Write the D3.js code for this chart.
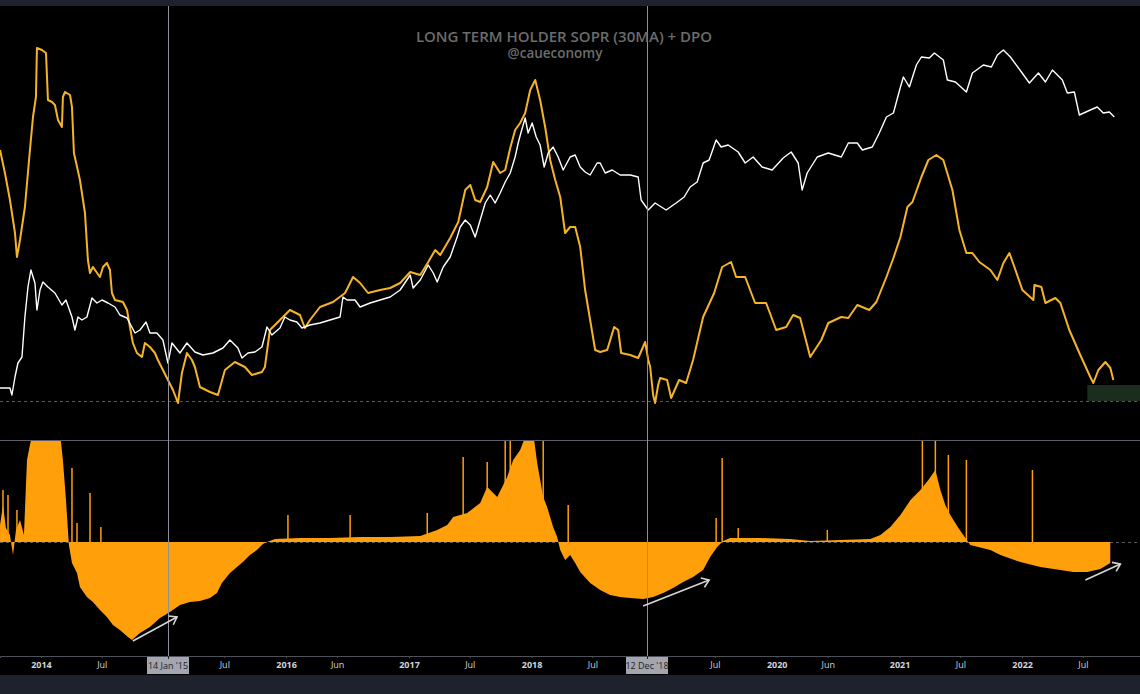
<!DOCTYPE html>
<html>
<head>
<meta charset="utf-8">
<script src="https://cdnjs.cloudflare.com/ajax/libs/d3/7.8.5/d3.min.js"></script>
<style>
	html, body { margin: 0; padding: 0; background: #1e222d; }
	#chart { width: 1140px; height: 694px; }
	text { font-family: "Open Sans", "Noto Sans", sans-serif; }
</style>
</head>
<body>
<div id="chart"></div>
<script>

// [decimal year, index value] - LTH SOPR 30MA (orange)
const sopr = [
	[2013.666, 50.2], [2013.706, 45.6], [2013.747, 40.2], [2013.788, 33.6], [2013.804, 28.8], [2013.829, 32.2],
	[2013.869, 38.8], [2013.910, 50.2], [2013.935, 56.8], [2013.959, 60.8], [2013.967, 70.6], [2014.008, 70.2],
	[2014.041, 69.6], [2014.057, 60.2], [2014.090, 59.8], [2014.114, 59.2], [2014.139, 56.2], [2014.171, 54.8],
	[2014.179, 60.8], [2014.196, 61.8], [2014.237, 61.2], [2014.253, 58.8], [2014.269, 49.6], [2014.318, 44.2],
	[2014.359, 37.6], [2014.383, 28.2], [2014.400, 25.6], [2014.424, 26.8], [2014.481, 24.8], [2014.506, 26.8],
	[2014.538, 27.6], [2014.563, 26.2], [2014.579, 21.6], [2014.604, 20.2], [2014.669, 19.8], [2014.702, 18.2],
	[2014.726, 14.8], [2014.750, 11.6], [2014.783, 9.6], [2014.824, 8.8], [2014.848, 11.6], [2014.889, 10.8],
	[2014.930, 9.6], [2014.954, 8.2], [2014.995, 6.2], [2015.036, 4.2], [2015.077, 2.2], [2015.118, -0.4],
	[2015.150, 5.6], [2015.191, 9.6], [2015.232, 8.2], [2015.256, 6.8], [2015.297, 2.8], [2015.379, 1.8],
	[2015.444, 1.2], [2015.501, 6.2], [2015.582, 7.8], [2015.664, 6.8], [2015.721, 5.2], [2015.803, 5.8],
	[2015.827, 6.8], [2015.868, 14.2], [2015.950, 16.2], [2016.031, 18.2], [2016.113, 17.2], [2016.153, 14.6],
	[2016.194, 16.2], [2016.276, 18.8], [2016.382, 19.8], [2016.480, 21.6], [2016.545, 24.8], [2016.602, 23.6],
	[2016.667, 21.6], [2016.765, 22.2], [2016.847, 22.6], [2016.928, 23.6], [2017.010, 25.8], [2017.092, 25.2],
	[2017.157, 27.8], [2017.214, 30.2], [2017.255, 29.2], [2017.336, 32.6], [2017.402, 35.8], [2017.459, 42.2],
	[2017.500, 43.2], [2017.540, 40.2], [2017.581, 39.8], [2017.638, 42.8], [2017.687, 47.8], [2017.744, 45.6],
	[2017.785, 46.2], [2017.826, 50.6], [2017.866, 54.2], [2017.907, 55.6], [2017.948, 57.6], [2017.989, 62.2],
	[2018.030, 64.2], [2018.070, 60.2], [2018.111, 54.8], [2018.152, 48.2], [2018.193, 44.2], [2018.234, 40.8],
	[2018.274, 33.6], [2018.315, 34.8], [2018.356, 34.8], [2018.397, 30.8], [2018.437, 22.2], [2018.478, 16.2],
	[2018.519, 10.2], [2018.560, 9.8], [2018.617, 10.2], [2018.674, 14.8], [2018.707, 14.2], [2018.731, 9.6],
	[2018.805, 9.2], [2018.870, 8.6], [2018.927, 11.8], [2018.952, 8.2], [2018.968, 6.8], [2018.992, 1.2],
	[2019.008, -0.4], [2019.033, 3.2], [2019.049, 4.6], [2019.106, 4.2], [2019.139, 0.6], [2019.204, 4.2],
	[2019.261, 3.6], [2019.318, 8.2], [2019.400, 16.8], [2019.490, 21.6], [2019.555, 26.8], [2019.628, 27.8],
	[2019.669, 24.8], [2019.743, 24.8], [2019.824, 19.6], [2019.914, 19.6], [2019.996, 14.2], [2020.077, 14.8],
	[2020.134, 17.2], [2020.191, 16.6], [2020.273, 8.8], [2020.363, 12.2], [2020.420, 15.6], [2020.526, 16.8],
	[2020.583, 16.6], [2020.656, 19.2], [2020.754, 18.2], [2020.811, 19.8], [2020.893, 24.8], [2020.950, 28.6],
	[2021.007, 32.8], [2021.064, 38.8], [2021.105, 39.8], [2021.178, 44.8], [2021.235, 48.2], [2021.300, 49.2],
	[2021.357, 48.2], [2021.431, 42.2], [2021.488, 34.2], [2021.545, 29.6], [2021.594, 29.6], [2021.651, 27.8],
	[2021.741, 26.2], [2021.798, 24.2], [2021.847, 27.6], [2021.896, 29.6], [2021.937, 26.8], [2022.002, 22.2],
	[2022.092, 20.2], [2022.100, 23.2], [2022.157, 22.8], [2022.190, 19.6], [2022.271, 20.6], [2022.312, 19.6],
	[2022.385, 14.2], [2022.467, 9.6], [2022.556, 4.8], [2022.581, 3.6], [2022.622, 6.2], [2022.679, 7.8],
	[2022.720, 6.6], [2022.744, 4.2]
];

// [decimal year, index value] - price overlay (white)
const price = [
	[2013.666, 2.6], [2013.747, 2.6], [2013.763, 1.2], [2013.788, 4.8], [2013.812, 7.6], [2013.845, 8.8],
	[2013.869, 16.8], [2013.894, 22.8], [2013.918, 26.2], [2013.951, 23.6], [2013.967, 18.2], [2013.992, 22.2],
	[2014.016, 23.8], [2014.057, 22.8], [2014.114, 21.6], [2014.171, 19.2], [2014.204, 20.2], [2014.253, 16.8],
	[2014.277, 14.2], [2014.302, 16.8], [2014.334, 16.2], [2014.375, 16.8], [2014.416, 20.6], [2014.457, 19.6],
	[2014.498, 20.2], [2014.547, 19.6], [2014.604, 18.8], [2014.644, 17.2], [2014.702, 16.6], [2014.767, 13.6],
	[2014.808, 14.2], [2014.857, 15.8], [2014.889, 13.6], [2014.946, 13.6], [2014.995, 12.2], [2015.036, 7.6],
	[2015.069, 11.6], [2015.134, 9.6], [2015.191, 11.6], [2015.256, 9.8], [2015.321, 9.2], [2015.403, 9.6],
	[2015.485, 10.6], [2015.542, 12.2], [2015.607, 10.6], [2015.640, 8.6], [2015.689, 9.6], [2015.746, 9.8],
	[2015.803, 10.8], [2015.844, 14.8], [2015.884, 13.2], [2015.950, 14.6], [2015.990, 16.8], [2016.031, 16.2],
	[2016.088, 15.8], [2016.129, 14.6], [2016.194, 15.2], [2016.276, 15.6], [2016.357, 16.2], [2016.439, 16.8],
	[2016.463, 20.8], [2016.496, 20.2], [2016.561, 20.2], [2016.602, 18.8], [2016.684, 19.6], [2016.765, 20.2],
	[2016.847, 20.8], [2016.928, 22.2], [2017.010, 25.2], [2017.034, 22.6], [2017.092, 24.2], [2017.157, 27.2],
	[2017.198, 25.6], [2017.230, 23.8], [2017.279, 26.8], [2017.336, 28.8], [2017.393, 32.8], [2017.418, 34.8],
	[2017.459, 36.2], [2017.500, 35.2], [2017.540, 32.8], [2017.581, 36.2], [2017.622, 39.6], [2017.663, 41.2],
	[2017.703, 39.6], [2017.744, 41.6], [2017.785, 43.8], [2017.826, 45.6], [2017.866, 48.8], [2017.891, 51.6],
	[2017.915, 53.8], [2017.948, 56.6], [2017.972, 53.6], [2018.005, 55.6], [2018.038, 52.8], [2018.070, 51.2],
	[2018.103, 46.8], [2018.136, 49.6], [2018.176, 50.8], [2018.217, 48.8], [2018.258, 46.2], [2018.315, 48.8],
	[2018.356, 49.2], [2018.397, 46.8], [2018.437, 45.8], [2018.478, 45.2], [2018.535, 47.6], [2018.560, 47.6],
	[2018.601, 45.6], [2018.658, 46.2], [2018.723, 45.2], [2018.805, 45.2], [2018.870, 44.8], [2018.894, 40.2],
	[2018.952, 38.2], [2019.008, 39.6], [2019.098, 38.2], [2019.180, 39.6], [2019.245, 40.8], [2019.294, 42.8],
	[2019.351, 43.8], [2019.400, 47.6], [2019.449, 48.2], [2019.506, 52.2], [2019.547, 50.8], [2019.604, 51.2],
	[2019.686, 49.8], [2019.743, 47.6], [2019.808, 48.8], [2019.881, 46.8], [2019.963, 46.2], [2020.053, 48.6],
	[2020.118, 49.8], [2020.175, 47.6], [2020.207, 42.2], [2020.248, 45.6], [2020.330, 48.8], [2020.420, 49.6],
	[2020.526, 48.8], [2020.583, 51.6], [2020.656, 51.6], [2020.697, 50.2], [2020.778, 50.8], [2020.835, 53.6],
	[2020.893, 56.8], [2020.950, 57.6], [2021.007, 62.8], [2021.031, 64.8], [2021.080, 62.8], [2021.137, 67.2],
	[2021.178, 68.8], [2021.243, 68.6], [2021.284, 69.6], [2021.357, 68.2], [2021.390, 64.2], [2021.456, 63.8],
	[2021.545, 61.8], [2021.594, 65.6], [2021.684, 67.2], [2021.749, 66.8], [2021.798, 69.2], [2021.847, 70.2],
	[2021.904, 68.8], [2021.994, 65.8], [2022.059, 63.6], [2022.133, 65.6], [2022.190, 63.8], [2022.247, 66.2],
	[2022.328, 64.2], [2022.369, 61.6], [2022.426, 61.8], [2022.467, 57.2], [2022.556, 58.2], [2022.613, 58.8],
	[2022.662, 57.6], [2022.712, 57.8], [2022.752, 56.8]
];

// [decimal year, value] - DPO histogram envelope
const dpo = [
	[2013.666, 8.5], [2013.690, 18.5], [2013.714, 7], [2013.747, 3.5], [2013.772, -6.5], [2013.796, 6],
	[2013.829, 11], [2013.861, 3.5], [2013.886, 41], [2013.910, 48.5], [2013.951, 60], [2013.992, 65],
	[2014.033, 62], [2014.073, 66], [2014.114, 58], [2014.155, 55], [2014.179, 41], [2014.204, 21],
	[2014.228, -1.5], [2014.253, -10.5], [2014.294, -15.5], [2014.318, -22.5], [2014.375, -27.5], [2014.424, -30],
	[2014.481, -34], [2014.538, -37.5], [2014.587, -41.5], [2014.644, -44], [2014.710, -47.5], [2014.742, -49],
	[2014.808, -45.5], [2014.889, -42.5], [2014.971, -38], [2015.052, -35], [2015.134, -31.5], [2015.215, -30],
	[2015.297, -29.5], [2015.379, -28], [2015.436, -25.5], [2015.476, -20.5], [2015.542, -15.5], [2015.599, -12.5],
	[2015.648, -10], [2015.705, -6.5], [2015.762, -4], [2015.811, -1], [2015.844, 0], [2015.909, 1.5],
	[2016.113, 2], [2016.357, 2], [2016.602, 2.5], [2016.847, 2.5], [2017.092, 3], [2017.230, 6],
	[2017.312, 8.5], [2017.361, 12.5], [2017.475, 14.5], [2017.581, 19.5], [2017.638, 27.5], [2017.720, 22.5],
	[2017.801, 32.5], [2017.850, 41], [2017.907, 46], [2017.964, 55], [2018.013, 55], [2018.046, 39.5],
	[2018.095, 22.5], [2018.127, 17.5], [2018.176, 7.5], [2018.209, 2.5], [2018.234, -4], [2018.274, -9],
	[2018.315, -6.5], [2018.356, -10.5], [2018.397, -15], [2018.478, -20.5], [2018.560, -24], [2018.641, -26.5],
	[2018.723, -27.5], [2018.805, -28], [2018.911, -28.5], [2018.992, -27.5], [2019.074, -25.5], [2019.155, -23],
	[2019.237, -20], [2019.318, -17.5], [2019.400, -14], [2019.457, -7.5], [2019.514, -2.5], [2019.563, 0.5],
	[2019.620, 2], [2019.865, 2], [2020.110, 1.5], [2020.273, 0.5], [2020.517, 1], [2020.762, 1.5],
	[2020.844, 3.5], [2020.925, 7.5], [2021.007, 13.5], [2021.089, 21], [2021.170, 26], [2021.235, 31],
	[2021.292, 36], [2021.333, 26], [2021.373, 18.5], [2021.414, 13.5], [2021.480, 7], [2021.537, 2],
	[2021.577, -1.5], [2021.741, -4], [2021.823, -6.5], [2021.986, -10], [2022.149, -12.5], [2022.312, -14],
	[2022.418, -15], [2022.532, -15], [2022.638, -13.5], [2022.719, -10.5]
];

// [decimal year, value] - single-day DPO spikes
const dpoSpikes = [
	[2013.690, 26], [2013.731, 23.5], [2013.804, 16], [2014.253, 37], [2014.294, 9.5], [2014.400, 24.5],
	[2014.489, 7.5], [2016.015, 13.5], [2016.521, 13.5], [2017.149, 14.5], [2017.442, 42.5], [2017.638, 40],
	[2017.785, 60], [2017.826, 60], [2018.095, 60], [2018.299, 18.5], [2019.506, 12], [2019.555, 42],
	[2019.686, 7], [2020.412, 6], [2021.186, 60], [2021.292, 60], [2021.398, 43.5], [2021.545, 41],
	[2022.084, 36]
];

// 2015 and 2019 sit under the crosshair date boxes, so they are not listed
const tickDates = ['2014-01-01', '2014-07-01', '2015-07-01', '2016-01-01', '2016-06-01',
	'2017-01-01', '2017-07-01', '2018-01-01', '2018-07-01', '2019-07-01', '2020-01-01',
	'2020-06-01', '2021-01-01', '2021-07-01', '2022-01-01', '2022-07-01'];
const tickLabels = ['2014', 'Jul', 'Jul', '2016', 'Jun', '2017', 'Jul', '2018', 'Jul', 'Jul',
	'2020', 'Jun', '2021', 'Jul', '2022', 'Jul'];

const crosshairDates = ['2015-01-14', '2018-12-12'];
const crosshairLabels = ['14 Jan \'15', '12 Dec \'18'];

// [from year, from value, to year, to value] on the DPO pane
const arrows = [
	[2014.750, -49.5, 2015.110, -37.5],
	[2018.911, -32, 2019.449, -19],
	[2022.516, -19, 2022.802, -11]
];

// green zone on the SOPR pane: [from year, to year, low, high]
const zone = [2022.532, 2022.97, 0, 3.2];

const titleLines = ['LONG TERM HOLDER SOPR (30MA) + DPO', '@caueconomy'];

function fromDecimal(y) {
	const yr = Math.floor(y);
	const a = Date.UTC(yr, 0, 1), b = Date.UTC(yr + 1, 0, 1);
	return new Date(a + (y - yr) * (b - a));
}

const parseDate = d3.utcParse('%Y-%m-%d');

class SoprChart {

	constructor(options) {
		this.element = options.element;
		this.draw();
	}

	draw() {

		this.width = 1140;
		this.height = 694;
		this.top = 6;
		this.split = 440;
		this.bottom = 656;
		this.footer = 675;

		this.createSVG();
		this.createScales();
		this.createPanes();
		this.createHistogram();
		this.createLines();
		this.createCrosshairs();
		this.createTitle();
		this.createArrows();
		this.createAxis();

	}

	createSVG() {
		this.svg = d3.select(this.element)
			.append('svg')
				.attr('width', this.width)
				.attr('height', this.height);

		this.svg.append('rect')
			.attr('width', this.width)
			.attr('height', this.height)
			.attr('fill', '#1e222d');

		this.svg.append('rect')
			.attr('y', this.top)
			.attr('width', this.width)
			.attr('height', this.footer - this.top)
			.attr('fill', '#000');

		const defs = this.svg.append('defs');
		defs.append('clipPath').attr('id', 'clipTop')
			.append('rect')
				.attr('y', this.top)
				.attr('width', this.width)
				.attr('height', this.split - this.top);
		defs.append('clipPath').attr('id', 'clipBottom')
			.append('rect')
				.attr('y', this.split + 1)
				.attr('width', this.width)
				.attr('height', this.bottom - this.split - 1);

		defs.append('marker')
			.attr('id', 'arrowHead')
			.attr('markerUnits', 'userSpaceOnUse')
			.attr('markerWidth', 14)
			.attr('markerHeight', 14)
			.attr('refX', 9)
			.attr('refY', 6)
			.attr('orient', 'auto')
			.append('path')
				.attr('d', 'M2,1 L9,6 L2,11')
				.attr('fill', 'none')
				.attr('stroke', '#d6d6d6')
				.attr('stroke-width', 1.6);
	}

	createScales() {

		this.xScale = d3.scaleTime()
			.domain([new Date(Date.UTC(2013, 8, 1)), new Date(Date.UTC(2022, 11, 18))])
			.range([0, this.width]);

		this.yTop = d3.scaleLinear()
			.domain([0, 70])
			.range([401, 51]);

		this.yBottom = d3.scaleLinear()
			.domain([0, 50])
			.range([542, 442]);

	}

	createPanes() {

		var that = this;

		// pane divider
		this.svg.append('line')
			.attr('x1', 0).attr('x2', this.width)
			.attr('y1', this.split + 0.5).attr('y2', this.split + 0.5)
			.attr('stroke', '#5d606b');

		this.svg.append('rect')
			.attr('x', this.xScale(fromDecimal(zone[0])))
			.attr('y', this.yTop(zone[3]))
			.attr('width', this.xScale(fromDecimal(zone[1])) - this.xScale(fromDecimal(zone[0])))
			.attr('height', this.yTop(zone[2]) - this.yTop(zone[3]))
			.attr('fill', '#1b2e1d');

		this.svg.append('line')
			.attr('x1', 0).attr('x2', this.width)
			.attr('y1', Math.round(that.yTop(0)) + 0.5)
			.attr('y2', Math.round(that.yTop(0)) + 0.5)
			.attr('stroke', '#5a5a5a')
			.attr('stroke-dasharray', '3,3');

		this.svg.append('line')
			.attr('x1', 0).attr('x2', this.width)
			.attr('y1', Math.round(that.yBottom(0)) + 0.5)
			.attr('y2', Math.round(that.yBottom(0)) + 0.5)
			.attr('stroke', '#5a5a5a')
			.attr('stroke-dasharray', '3,3');

	}

	createHistogram() {

		var that = this;

		const g = this.svg.append('g').attr('clip-path', 'url(#clipBottom)');

		const area = d3.area()
			.x(function(d) { return that.xScale(fromDecimal(d[0])); })
			.y0(that.yBottom(0))
			.y1(function(d) { return that.yBottom(d[1]); });

		g.append('path')
			.datum(dpo)
			.attr('d', area)
			.attr('fill', '#ff9f0a');

		g.selectAll('line.spike')
			.data(dpoSpikes).enter()
			.append('line')
				.attr('class', 'spike')
				.attr('x1', function(d) { return that.xScale(fromDecimal(d[0])); })
				.attr('x2', function(d) { return that.xScale(fromDecimal(d[0])); })
				.attr('y1', that.yBottom(0))
				.attr('y2', function(d) { return that.yBottom(d[1]); })
				.attr('stroke', '#ff9f0a')
				.attr('stroke-width', 1.5);

	}

	createLines() {

		var that = this;

		const g = this.svg.append('g').attr('clip-path', 'url(#clipTop)');

		const line = d3.line()
			.x(function(d) { return that.xScale(fromDecimal(d[0])); })
			.y(function(d) { return that.yTop(d[1]); });

		g.append('path')
			.datum(sopr)
			.attr('d', line)
			.attr('fill', 'none')
			.attr('stroke', '#f5b428')
			.attr('stroke-width', 2)
			.attr('stroke-linejoin', 'round');

		g.append('path')
			.datum(price)
			.attr('d', line)
			.attr('fill', 'none')
			.attr('stroke', '#ffffff')
			.attr('stroke-width', 1.4)
			.attr('stroke-linejoin', 'round');

	}

	createCrosshairs() {

		var that = this;

		this.svg.selectAll('line.cross')
			.data(crosshairDates).enter()
			.append('line')
				.attr('class', 'cross')
				.attr('x1', function(d) { return Math.round(that.xScale(parseDate(d))) + 0.5; })
				.attr('x2', function(d) { return Math.round(that.xScale(parseDate(d))) + 0.5; })
				.attr('y1', this.top)
				.attr('y2', this.bottom)
				.attr('stroke', '#8e9199')
				.attr('stroke-width', 1);

	}

	createTitle() {

		this.svg.selectAll('text.title')
			.data(titleLines).enter()
			.append('text')
				.attr('class', 'title')
				.attr('x', function(d, i) { return i === 0 ? 564 : 555; })
				.attr('y', function(d, i) { return i === 0 ? 42 : 58; })
				.attr('text-anchor', 'middle')
				.attr('font-size', function(d, i) { return i === 0 ? 15 : 13.5; })
				.attr('font-weight', 600)
				.attr('fill', '#6c6c6c')
				.text(function(d) { return d; });

	}

	createArrows() {

		var that = this;

		this.svg.selectAll('line.arrow')
			.data(arrows).enter()
			.append('line')
				.attr('class', 'arrow')
				.attr('x1', function(d) { return that.xScale(fromDecimal(d[0])); })
				.attr('y1', function(d) { return that.yBottom(d[1]); })
				.attr('x2', function(d) { return that.xScale(fromDecimal(d[2])); })
				.attr('y2', function(d) { return that.yBottom(d[3]); })
				.attr('stroke', '#d6d6d6')
				.attr('stroke-width', 1.6)
				.attr('marker-end', 'url(#arrowHead)');

	}

	createAxis() {

		var that = this;

		this.xAxis = d3.axisBottom(this.xScale)
			.tickValues(tickDates.map(parseDate))
			.tickFormat(function(d, i) { return tickLabels[i]; })
			.tickSize(2)
			.tickPadding(4);

		const g = this.svg.append('g')
			.attr('class', 'xAxis')
			.attr('transform', `translate(0, ${this.bottom})`)
			.call(this.xAxis);

		g.select('.domain').attr('stroke', '#4e515b');
		g.selectAll('.tick line').attr('stroke', '#4e515b');
		g.selectAll('.tick text')
			.attr('fill', '#d1d4dc')
			.attr('font-size', 9)
			.attr('font-weight', function(d, i) { return /^\d/.test(tickLabels[i]) ? 700 : 400; })
			.attr('font-family', '"Open Sans", "Noto Sans", sans-serif');

		const labels = this.svg.selectAll('g.crossLabel')
			.data(crosshairDates).enter()
			.append('g')
				.attr('class', 'crossLabel')
				.attr('transform', function(d) {
					return `translate(${Math.round(that.xScale(parseDate(d)))}, ${that.bottom + 1})`;
				});

		labels.append('rect')
			.attr('x', -21)
			.attr('width', 42)
			.attr('height', 17)
			.attr('fill', '#a3a6af');

		labels.append('line')
			.attr('x1', 0.5).attr('x2', 0.5)
			.attr('y1', -1).attr('y2', 2)
			.attr('stroke', '#1e222d');

		labels.append('text')
			.attr('y', 12)
			.attr('text-anchor', 'middle')
			.attr('font-size', 9)
			.attr('fill', '#1e222d')
			.text(function(d, i) { return crosshairLabels[i]; });

	}

}

new SoprChart({ element: '#chart' });

</script>
</body>
</html>
